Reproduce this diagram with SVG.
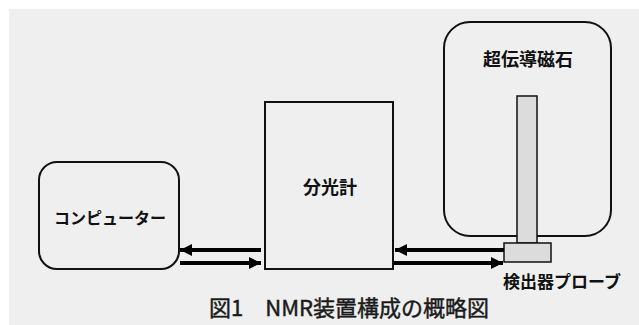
<svg xmlns="http://www.w3.org/2000/svg" width="639" height="325" viewBox="0 0 639 325">
  <defs>
    <style>
      .box { fill: none; stroke: #111; stroke-width: 2; }
      .lbl { font-family: "Noto Sans CJK JP", "Noto Sans", sans-serif; font-weight: bold; fill: #111; text-anchor: middle; }
      .cap { font-family: "Noto Sans CJK JP", "Noto Sans", sans-serif; font-weight: normal; fill: #1a1a1a; stroke: #1a1a1a; stroke-width: 0.45; text-anchor: middle; }
      .conn { stroke: #000; stroke-width: 4; fill: none; }
      .gray { fill: #dcdcdc; stroke: #111; stroke-width: 1.5; }
    </style>
    <marker id="ah" viewBox="0 0 10 10" refX="10" refY="5" markerWidth="3" markerHeight="3" orient="auto" markerUnits="strokeWidth">
      <path d="M0,0 L10,5 L0,10 Z" fill="#000"/>
    </marker>
  </defs>
  <rect x="9" y="9" width="630" height="316" fill="#eeefee"/>

  <g id="computer">
    <rect class="box" x="39" y="162" width="140" height="107" rx="18" ry="18"/>
    <text class="lbl" x="110" y="224" font-size="16">コンピューター</text>
  </g>

  <g id="spectrometer">
    <rect class="box" x="265" y="102" width="128" height="167"/>
    <text class="lbl" x="330" y="194" font-size="18">分光計</text>
  </g>

  <g id="magnet">
    <rect class="box" x="444" y="22" width="167" height="214" rx="26" ry="26"/>
    <text class="lbl" x="528" y="66" font-size="18">超伝導磁石</text>
  </g>

  <g id="probe">
    <rect class="gray" x="517" y="96" width="20" height="147"/>
    <rect class="gray" x="504" y="243" width="47" height="19"/>
    <text class="lbl" x="562" y="288" font-size="17">検出器プローブ</text>
  </g>

  <g id="connectors">
    <line class="conn" x1="261" y1="250" x2="180" y2="250" marker-end="url(#ah)"/>
    <line class="conn" x1="180" y1="263" x2="261" y2="263" marker-end="url(#ah)"/>
    <line class="conn" x1="504" y1="250" x2="395" y2="250" marker-end="url(#ah)"/>
    <line class="conn" x1="394" y1="263" x2="503" y2="263" marker-end="url(#ah)"/>
  </g>

  <text class="cap" x="349" y="316" font-size="22">図1　NMR装置構成の概略図</text>
</svg>
